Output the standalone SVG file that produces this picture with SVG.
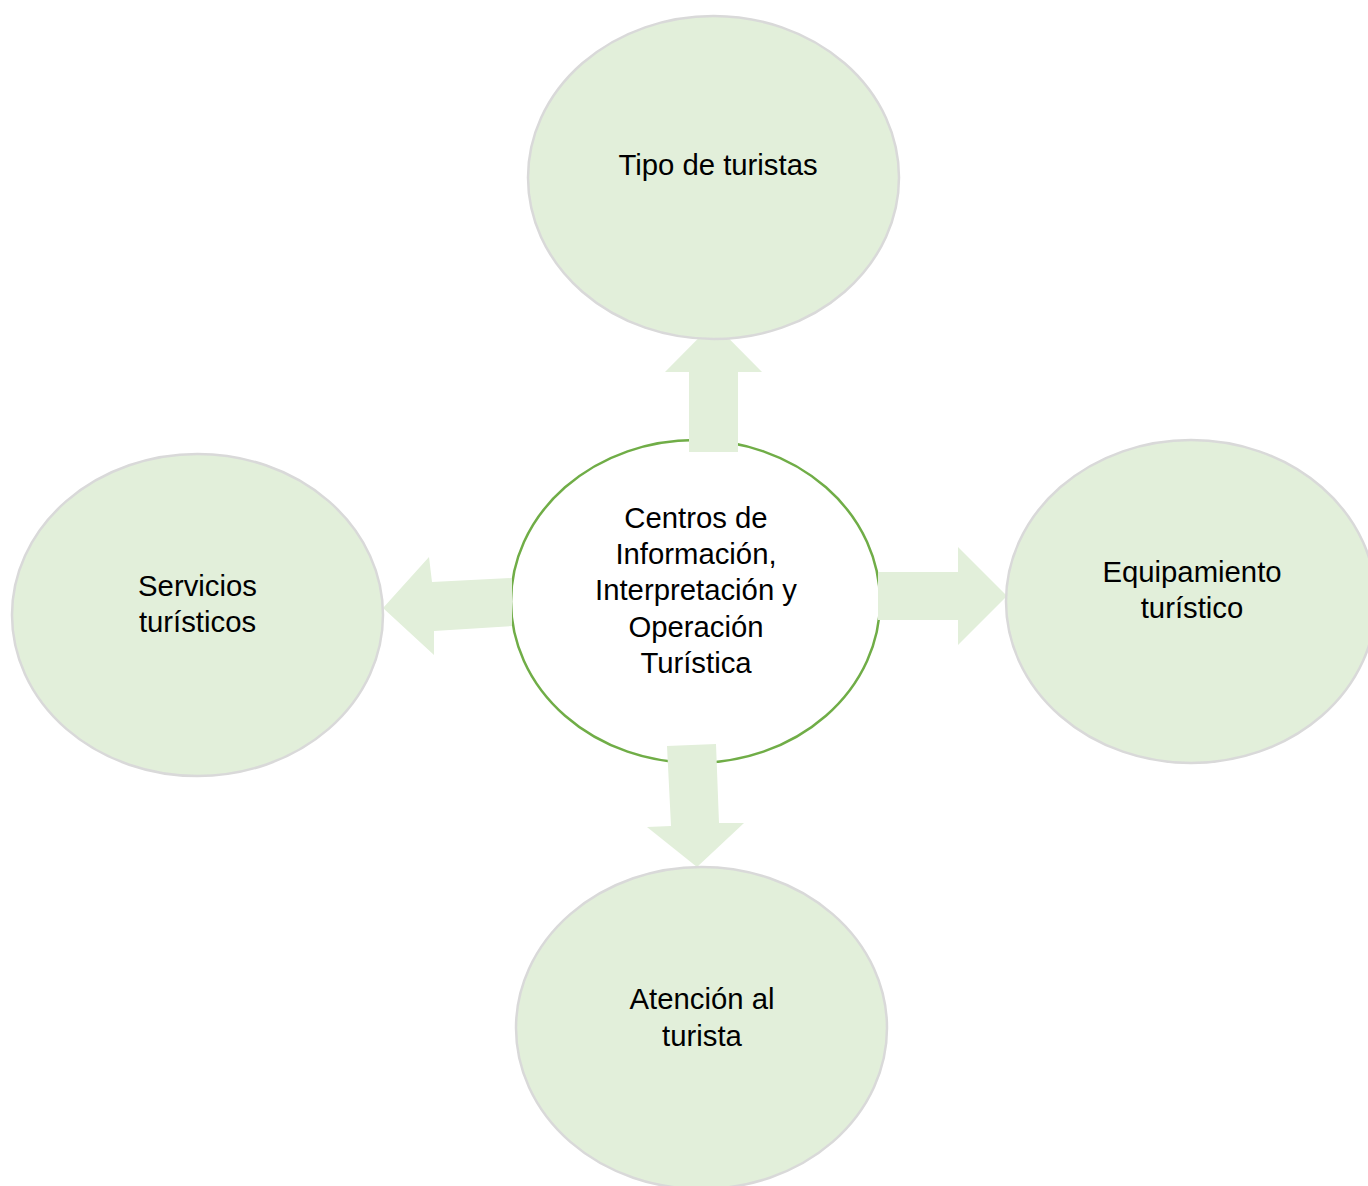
<svg xmlns="http://www.w3.org/2000/svg" width="1368" height="1186" viewBox="0 0 1368 1186">
<style>
.outer{fill:#E2EFDA;stroke:#D9D9D9;stroke-width:2.5}
.core{fill:#FFFFFF;stroke:#70AD47;stroke-width:2.5}
.arr{fill:#E2EFDA;stroke:none}
text{font-family:"Liberation Sans",Arial,sans-serif;font-size:29.3px;fill:#000000;text-anchor:middle}
</style>
<rect width="1368" height="1186" fill="#FFFFFF"/>
<g id="node-centro">
<ellipse class="core" cx="695.5" cy="601.5" rx="184.5" ry="161.5"/>
</g>
<g id="connectors">
<polygon class="arr" points="689,452 738,452 738,372 762,372 713.5,323 665,372 689,372"/>
<polygon class="arr" points="878,572 958,572 958,547 1007,596 958,645 958,620 878,620"/>
<polygon class="arr" points="512,578 432,582 429,557 383,608 434,655 434,631 512,626"/>
<polygon class="arr" points="667,746 716,744 719,823 744,823 697,867 647,827 671,826"/>
</g>
<g id="node-tipo">
<ellipse class="outer" cx="713.5" cy="177.5" rx="185.5" ry="161.5"/>
<text x="718" y="175">Tipo de turistas</text>
</g>
<g id="node-equipamiento">
<ellipse class="outer" cx="1191" cy="601.5" rx="185" ry="161.5"/>
<text x="1192" y="582">Equipamiento</text>
<text x="1192" y="618">turístico</text>
</g>
<g id="node-servicios">
<ellipse class="outer" cx="197.5" cy="615" rx="185.5" ry="161"/>
<text x="197.5" y="596">Servicios</text>
<text x="197.5" y="632">turísticos</text>
</g>
<g id="node-atencion">
<ellipse class="outer" cx="701.5" cy="1028" rx="185.5" ry="161"/>
<text x="702" y="1009">Atención al</text>
<text x="702" y="1046">turista</text>
</g>
<g id="node-centro-text">
<text x="696" y="528">Centros de</text>
<text x="696" y="564">Información,</text>
<text x="696" y="600">Interpretación y</text>
<text x="696" y="637">Operación</text>
<text x="696" y="673">Turística</text>
</g>
</svg>
